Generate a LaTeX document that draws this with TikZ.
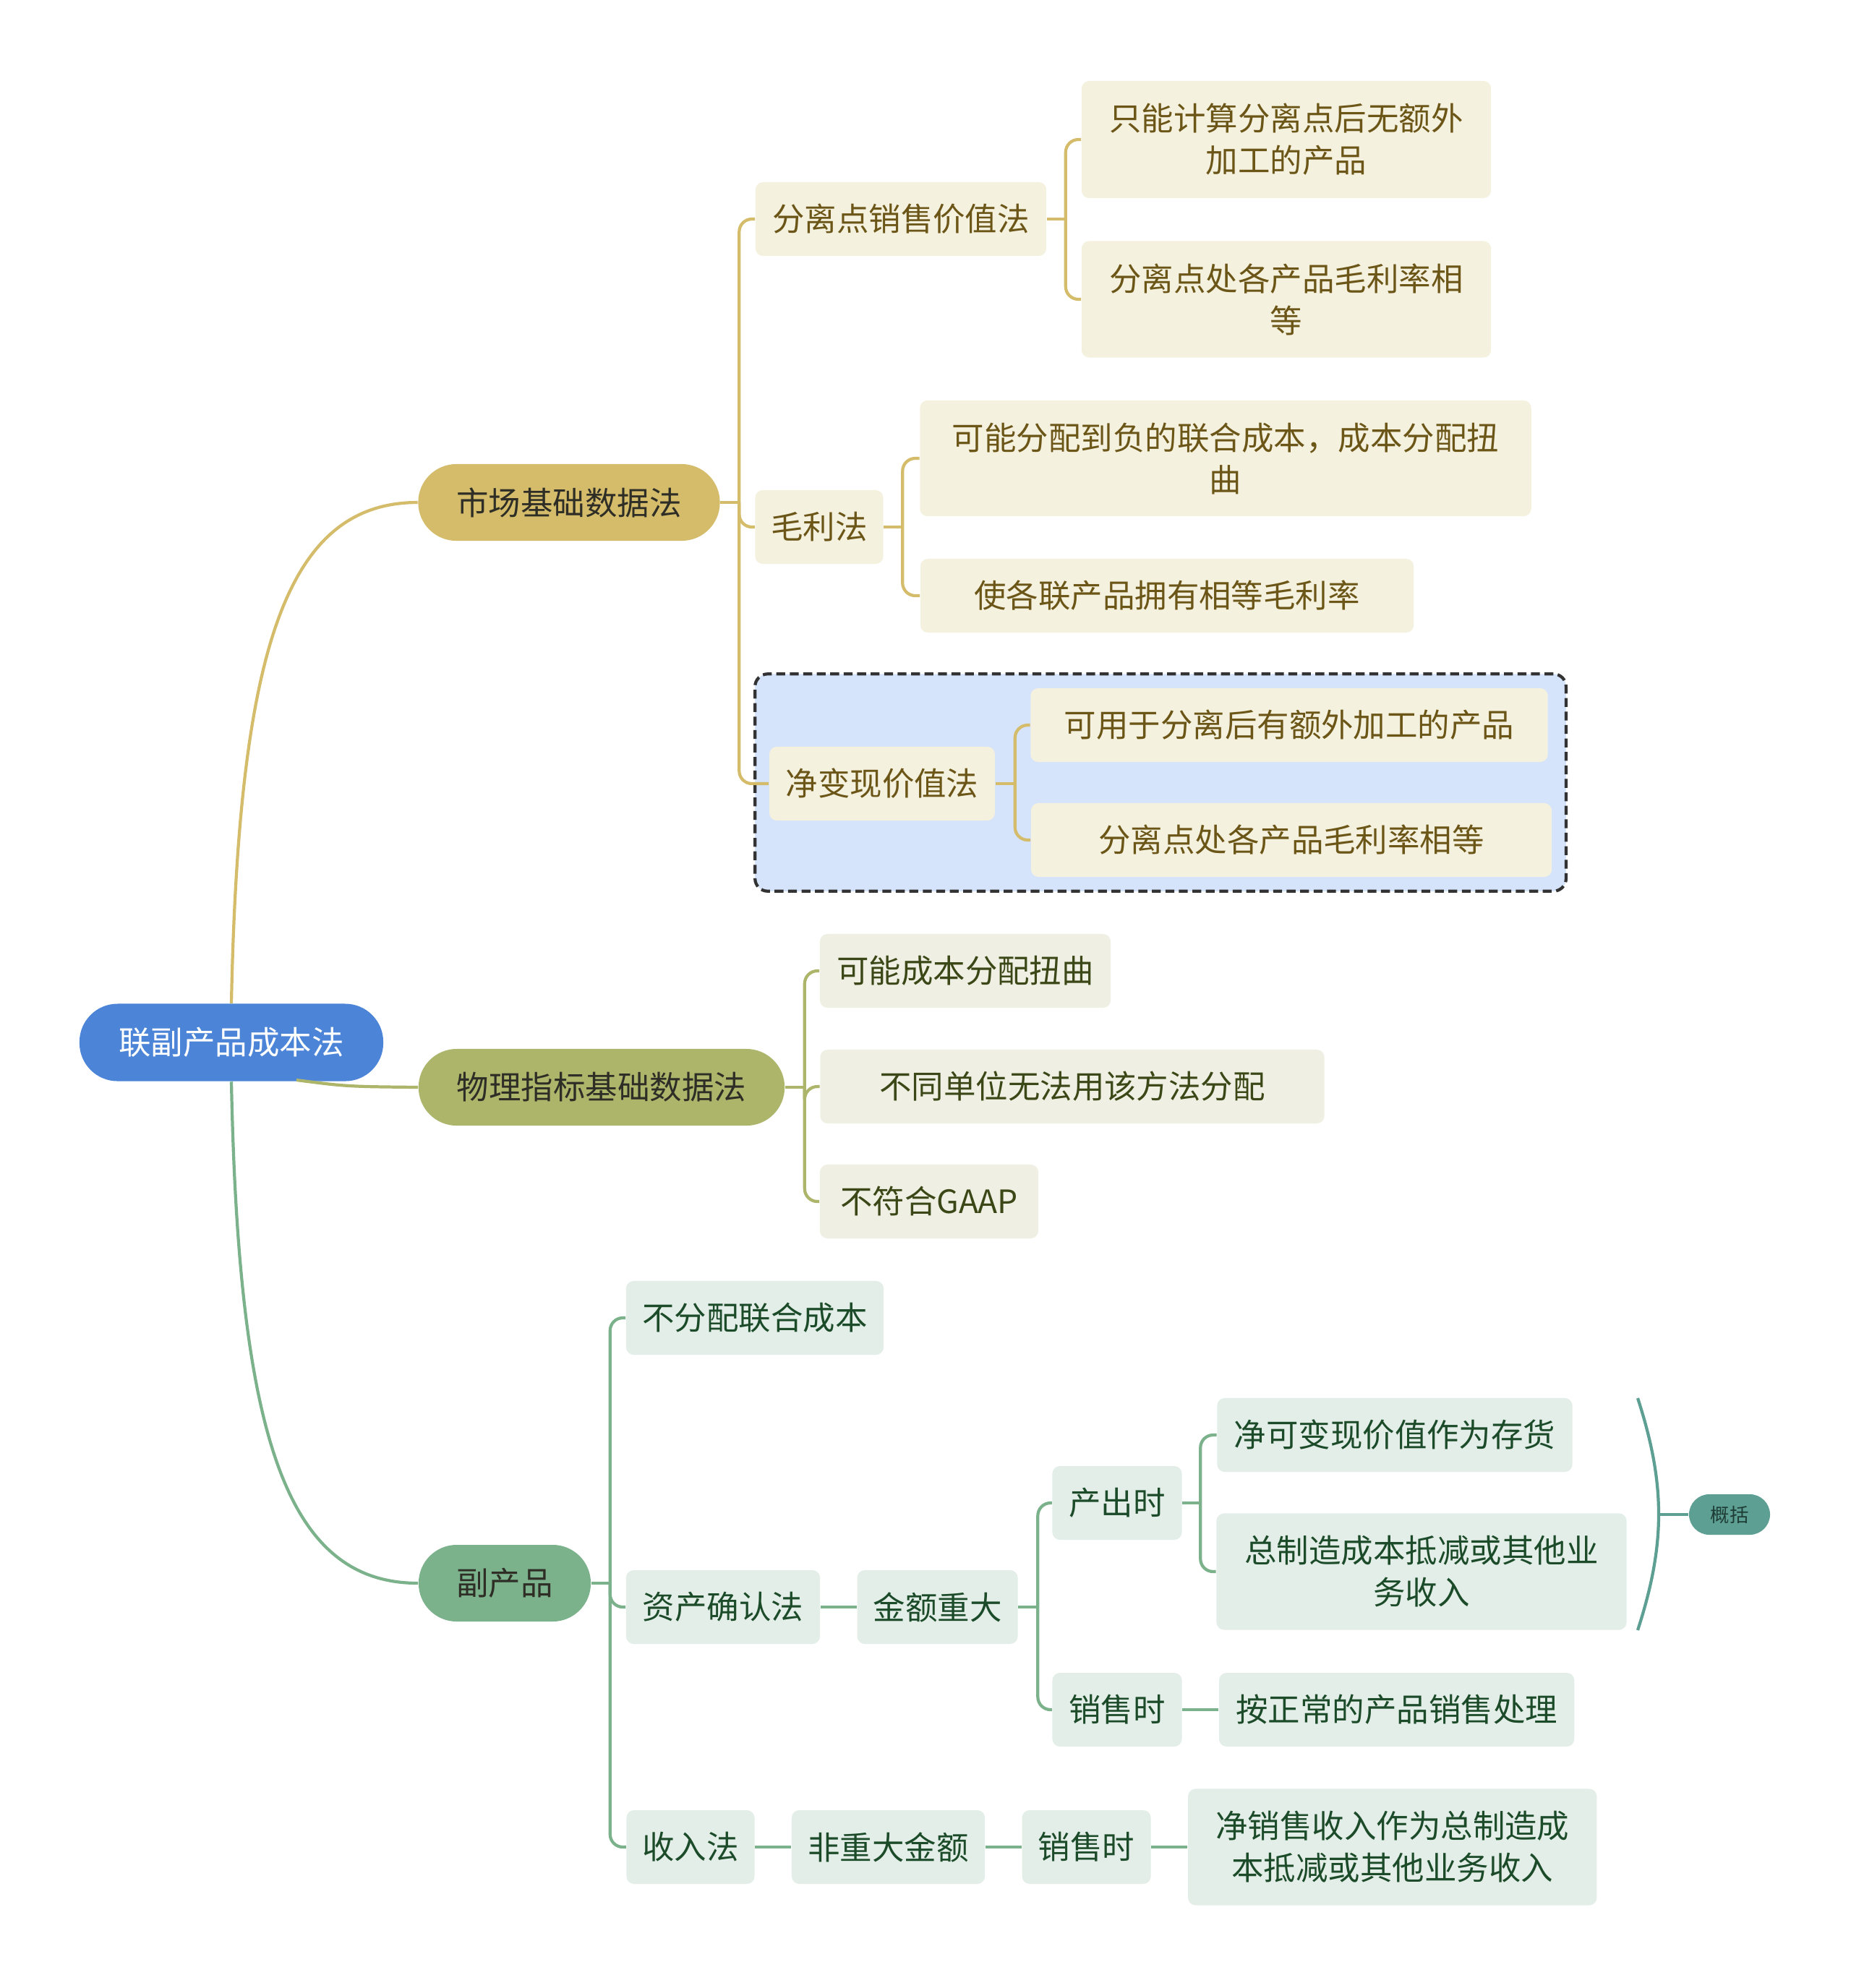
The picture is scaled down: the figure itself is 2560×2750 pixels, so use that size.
\documentclass[tikz,border=0pt]{standalone}
\usepackage{fontspec}
\newfontfamily\cjk{Noto Sans CJK SC}
\usepackage{tikz}
\usetikzlibrary{positioning,fit,calc,backgrounds}
\definecolor{rootblue}{HTML}{4C85D8}
\definecolor{goldmain}{HTML}{D4BC6B}
\definecolor{olivemain}{HTML}{ADB56B}
\definecolor{greenmain}{HTML}{7BB28B}
\definecolor{goldfill}{HTML}{F5F1DF}
\definecolor{olivefill}{HTML}{EFF0E3}
\definecolor{greenfill}{HTML}{E4EEE8}
\definecolor{goldtext}{HTML}{6B5617}
\definecolor{olivetext}{HTML}{3B4716}
\definecolor{greentext}{HTML}{1C4B2A}
\definecolor{maintext}{HTML}{2E2E26}
\definecolor{nrvfill}{HTML}{D5E4FA}
\definecolor{nrvedge}{HTML}{333333}
\definecolor{tealmain}{HTML}{5D9F92}
\definecolor{tealtext}{HTML}{1E3D36}
\tikzset{
  mm/text/.style={font=\cjk\fontsize{12.65pt}{16.5pt}\selectfont},
  mm/root/.style={mm/text, rounded corners=15pt, fill=rootblue, text=white, minimum width=4.2cm, minimum height=1.07cm},
  mm/main/.style={mm/text, rounded corners=15pt, text=maintext, minimum height=1.06cm},
  mm/leaf/.style={mm/text, rounded corners=3pt, align=center, inner sep=2pt, minimum height=1.02cm},
  mm/goldleaf/.style={mm/leaf, fill=goldfill, text=goldtext},
  mm/oliveleaf/.style={mm/leaf, fill=olivefill, text=olivetext},
  mm/greenleaf/.style={mm/leaf, fill=greenfill, text=greentext},
  mm/summary/.style={rounded corners=8pt, fill=tealmain, text=tealtext, font=\cjk\fontsize{7.5pt}{9pt}\selectfont, minimum width=1.12cm, minimum height=0.56cm, inner sep=1pt},
  mm/hilite/.style={fill=nrvfill, draw=nrvedge, dash pattern=on 3.5pt off 1.8pt, line width=1.2pt, rounded corners=5pt, inner sep=0.19cm},
  mm/goldline/.style={draw=goldmain, line width=1.2pt},
  mm/oliveline/.style={draw=olivemain, line width=1.2pt},
  mm/greenline/.style={draw=greenmain, line width=1.2pt},
  mm/tealline/.style={draw=tealmain, line width=1.2pt}
}

\begin{document}
\begin{tikzpicture}[x=0.01cm, y=-0.01cm, node distance=5mm]
  \useasboundingbox (0,0) rectangle (2560,2750);

  % root and first level
  \node[mm/root] (root) at (320,1442) {联副产品成本法};
  \node[mm/main, fill=goldmain, minimum width=4.17cm] (market) at (787,695) {市场基础数据法};
  \node[mm/main, fill=olivemain, minimum width=5.06cm] (phys) at (832,1504) {物理指标基础数据法};
  \node[mm/main, fill=greenmain, minimum width=2.38cm] (byprod) at (698,2190) {副产品};

  % market based
  \node[mm/goldleaf, minimum width=4.02cm] (sep) at (1246,303) {分离点销售价值法};
  \node[mm/goldleaf, minimum width=5.66cm, minimum height=1.62cm] (sepA) at (1779,193) {只能计算分离点后无额外\\加工的产品};
  \node[mm/goldleaf, minimum width=5.66cm, minimum height=1.61cm] (sepB) at (1779,414) {分离点处各产品毛利率相\\等};
  \node[mm/goldleaf, minimum width=1.77cm] (gross) at (1133,729) {毛利法};
  \node[mm/goldleaf, minimum width=8.45cm, minimum height=1.60cm] (grossA) at (1695,634) {可能分配到负的联合成本，成本分配扭\\曲};
  \node[mm/goldleaf, minimum width=6.82cm] (grossB) at (1614,824) {使各联产品拥有相等毛利率};
  \node[mm/goldleaf, minimum width=3.12cm] (nrv) at (1220,1084) {净变现价值法};
  \node[mm/goldleaf, minimum width=7.15cm] (nrvA) at (1783,1003) {可用于分离后有额外加工的产品};
  \node[mm/goldleaf, minimum width=7.20cm] (nrvB) at (1786,1162) {分离点处各产品毛利率相等};

  % physical measure
  \node[mm/oliveleaf, minimum width=4.02cm] (physA) at (1335,1343) {可能成本分配扭曲};
  \node[mm/oliveleaf, minimum width=6.97cm] (physB) at (1483,1503) {不同单位无法用该方法分配};
  \node[mm/oliveleaf, minimum width=3.02cm] (physC) at (1285,1662) {不符合GAAP};

  % by-products
  \node[mm/greenleaf, minimum width=3.56cm] (noalloc) at (1044,1823) {不分配联合成本};
  \node[mm/greenleaf, minimum width=2.68cm] (asset) at (1000,2223) {资产确认法};
  \node[mm/greenleaf, minimum width=2.22cm, right=of asset] (major) {金额重大};
  \node[mm/greenleaf, minimum width=1.79cm] (produce) at (1545,2079) {产出时};
  \node[mm/greenleaf, minimum width=1.79cm] (sale) at (1545,2365) {销售时};
  \node[mm/greenleaf, minimum width=4.91cm] (inventory) at (1929,1985) {净可变现价值作为存货};
  \node[mm/greenleaf, minimum width=5.67cm, minimum height=1.61cm] (offset) at (1966,2174) {总制造成本抵减或其他业\\务收入};
  \node[mm/greenleaf, minimum width=4.91cm, right=of sale] (normal) {按正常的产品销售处理};
  \node[mm/greenleaf, minimum width=1.77cm] (revenue) at (955,2555) {收入法};
  \node[mm/greenleaf, minimum width=2.67cm, right=of revenue] (minor) {非重大金额};
  \node[mm/greenleaf, minimum width=1.78cm, right=of minor] (sale2) {销售时};
  \node[mm/greenleaf, minimum width=5.65cm, minimum height=1.61cm, right=of sale2] (netrev) {净销售收入作为总制造成\\本抵减或其他业务收入};
  \node[mm/summary] (summary) at (2392,2095) {概括};

  \begin{scope}[on background layer]
    \fill[white] (0,0) rectangle (2560,2750);
    \node[mm/hilite, fit=(nrv)(nrvA)(nrvB)] (nrvbox) {};
  \end{scope}

  % root connectors
  \coordinate (rootout) at (410,1494);
  \draw[mm/goldline] (root.north) .. controls (330,900) and (395,695) .. (market.west);
  \draw[mm/oliveline] (rootout) .. controls (480,1503) .. (phys.west);
  \draw[mm/greenline] (root.south) .. controls (330,1985) and (395,2190) .. (byprod.west);

  % forks
  \coordinate (mktfork) at ($(market.east)+(26,0)$);
  \coordinate (sepfork) at ($(sep.east)+(26,0)$);
  \coordinate (grossfork) at ($(gross.east)+(26,0)$);
  \coordinate (nrvfork) at ($(nrv.east)+(27,0)$);
  \coordinate (physfork) at ($(phys.east)+(27,0)$);
  \coordinate (byfork) at ($(byprod.east)+(26,0)$);
  \coordinate (majorfork) at ($(major.east)+(27,0)$);
  \coordinate (producefork) at ($(produce.east)+(25,0)$);

  \draw[mm/goldline] (market.east) -- (mktfork);
  \foreach \c in {sep,gross,nrv} \draw[mm/goldline, rounded corners=5pt] (mktfork) |- (\c.west);
  \draw[mm/goldline] (sep.east) -- (sepfork);
  \foreach \c in {sepA,sepB} \draw[mm/goldline, rounded corners=5pt] (sepfork) |- (\c.west);
  \draw[mm/goldline] (gross.east) -- (grossfork);
  \foreach \c in {grossA,grossB} \draw[mm/goldline, rounded corners=5pt] (grossfork) |- (\c.west);
  \draw[mm/goldline] (nrv.east) -- (nrvfork);
  \foreach \c in {nrvA,nrvB} \draw[mm/goldline, rounded corners=5pt] (nrvfork) |- (\c.west);

  \draw[mm/oliveline] (phys.east) -- (physfork);
  \foreach \c in {physA,physB,physC} \draw[mm/oliveline, rounded corners=5pt] (physfork) |- (\c.west);

  \draw[mm/greenline] (byprod.east) -- (byfork);
  \foreach \c in {noalloc,asset,revenue} \draw[mm/greenline, rounded corners=5pt] (byfork) |- (\c.west);
  \draw[mm/greenline] (asset) -- (major);
  \draw[mm/greenline] (major.east) -- (majorfork);
  \foreach \c in {produce,sale} \draw[mm/greenline, rounded corners=5pt] (majorfork) |- (\c.west);
  \draw[mm/greenline] (produce.east) -- (producefork);
  \foreach \c in {inventory,offset} \draw[mm/greenline, rounded corners=5pt] (producefork) |- (\c.west);
  \draw[mm/greenline] (sale) -- (normal);
  \draw[mm/greenline] (revenue) -- (minor);
  \draw[mm/greenline] (minor) -- (sale2);
  \draw[mm/greenline] (sale2) -- (netrev);

  % summary brace
  \coordinate (bracetop) at (2265,1934);
  \coordinate (bracebot) at (2265,2255);
  \coordinate (bracemid) at (2294,2095);
  \draw[mm/tealline] (bracetop) to[bend left=18] (bracebot);
  \draw[mm/tealline] (bracemid) -- (summary.west);
\end{tikzpicture}
\end{document}
